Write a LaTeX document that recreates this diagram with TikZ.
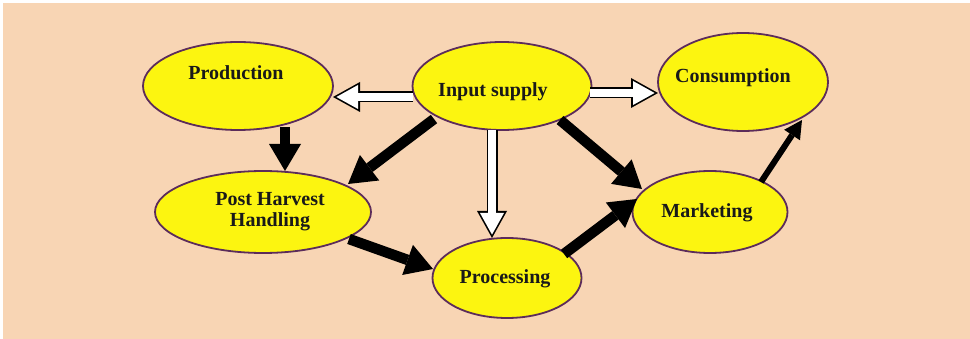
\documentclass[tikz,border=0pt]{standalone}
\usepackage{fontspec}
\setmainfont{Liberation Serif}
\usetikzlibrary{shapes.geometric,arrows.meta,calc}
\definecolor{peach}{HTML}{F8D5B4}
\definecolor{ellfill}{HTML}{FCF510}
\definecolor{elledge}{HTML}{5C2C5A}
\tikzset{
  ell/.style={ellipse, draw=elledge, line width=1.8pt, fill=ellfill, inner sep=0pt},
  lbl/.style={font=\fontsize{20}{21}\selectfont\bfseries, align=center, text=black!90},
  fat/.style={line width=10.5pt, -{Triangle[length=27pt,width=32pt,line width=0pt]}},
  thin/.style={line width=6pt, -{Triangle[length=18pt,width=19pt,line width=0pt]}},
  hollowout/.style={line width=11pt, -{Triangle[length=27pt,width=30pt,line width=0pt]}},
  hollowin/.style={white, line width=7.4pt, shorten >=3.4pt, -{Triangle[length=21.6pt,width=24pt,line width=0pt]}}
}
\begin{document}
\begin{tikzpicture}[x=1pt,y=-1pt]
\useasboundingbox (0,0) rectangle (970,339);
\fill[white] (0,0) rectangle (970,339);
\fill[peach] (3,3) rectangle (970,339);
% ellipses
\node[ell, minimum width=190pt, minimum height=88pt] (prod) at (238,86) {};
\node[ell, minimum width=179pt, minimum height=88pt] (inp) at (502,86) {};
\node[ell, minimum width=170pt, minimum height=98pt] (cons) at (743,82) {};
\node[ell, minimum width=216pt, minimum height=82pt] (post) at (263,212) {};
\node[ell, minimum width=149pt, minimum height=80pt] (proc) at (507,278) {};
\node[ell, minimum width=155pt, minimum height=82pt] (mark) at (710,212) {};
% labels
\node[lbl] (tprod) at (236,73) {Production};
\node[lbl] (tinp) at (493,92) {Input supply};
\node[lbl] (tcons) at (733,78) {Consumption};
\node[lbl] (tpost) at (270,212) {Post Harvest\\Handling};
\node[lbl] (tproc) at (505,279) {Processing};
\node[lbl] (tmark) at (707,213) {Marketing};
% coordinates for connector ends
\coordinate (a1) at ($(inp.center)+(-89,11)$);
\coordinate (a2) at ($(prod.center)+(95,11)$);
\coordinate (b1) at ($(inp.center)+(88,7)$);
\coordinate (b2) at ($(cons.center)+(-85,11)$);
\coordinate (c1) at ($(inp.center)+(-10,44)$);
\coordinate (c2) at ($(proc.center)+(-15,-40)$);
% hollow arrows
\foreach \s/\e in {a1/a2,b1/b2,c1/c2}{
  \draw[hollowout] (\s) -- (\e);
  \draw[hollowin] (\s) -- (\e);
}
% black arrows
\draw[fat] ($(prod.center)+(47,41)$) -- ($(post.center)+(22,-41)$);
\draw[fat] ($(inp.center)+(-68,33)$) -- ($(post.center)+(85,-28)$);
\draw[fat] ($(inp.center)+(58,34)$) -- ($(mark.center)+(-68,-23)$);
\draw[fat] ($(post.center)+(86,27)$) -- ($(proc.center)+(-74,-9)$);
\draw[fat] ($(proc.center)+(57,-24)$) -- ($(mark.center)+(-73,-13)$);
\draw[thin] ($(mark.center)+(51,-30)$) -- ($(cons.center)+(59,38)$);
\end{tikzpicture}
\end{document}
